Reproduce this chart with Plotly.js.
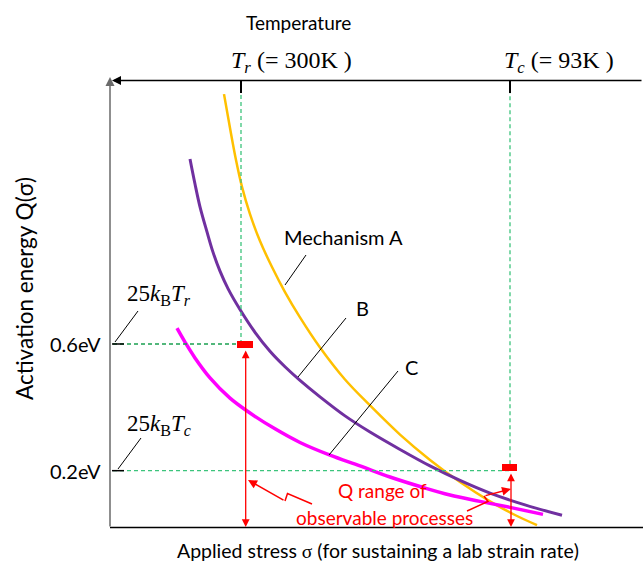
<!DOCTYPE html>
<html><head><meta charset="utf-8">
<script src="https://cdn.plot.ly/plotly-3.0.1.min.js"></script>
<style>html,body{margin:0;padding:0;background:#fff;}#chart{width:643px;height:573px;}</style>
</head><body><div id="chart"></div>
<script>
// ---- data (stress in arbitrary units, Q in eV) ----
const sigmaA = [1.13, 1.19, 1.25, 1.31, 1.39, 1.49, 1.61, 1.74, 1.89, 2.09, 2.34, 2.59, 2.89, 3.19, 3.49, 3.79, 4.04, 4.26];
const qA     = [1.389, 1.282, 1.181, 1.096, 1.010, 0.925, 0.843, 0.764, 0.684, 0.589, 0.488, 0.406, 0.314, 0.234, 0.164, 0.103, 0.060, 0.028];
const sigmaB = [0.79, 0.84, 0.89, 0.96, 1.02, 1.09, 1.17, 1.29, 1.44, 1.59, 1.74, 1.89, 2.09, 2.34, 2.59, 2.89, 3.19, 3.49, 3.79, 4.14, 4.51];
const qB     = [1.184, 1.105, 1.033, 0.954, 0.890, 0.830, 0.775, 0.709, 0.637, 0.577, 0.528, 0.485, 0.433, 0.373, 0.322, 0.267, 0.215, 0.169, 0.129, 0.092, 0.059];
const sigmaC = [0.66, 0.74, 0.84, 0.99, 1.19, 1.39, 1.64, 1.89, 2.19, 2.49, 2.79, 3.09, 3.39, 3.69, 3.99, 4.32];
const qC     = [0.650, 0.606, 0.556, 0.493, 0.429, 0.382, 0.332, 0.289, 0.249, 0.215, 0.180, 0.150, 0.123, 0.103, 0.084, 0.062];
const curveNames = ['Mechanism A', 'B', 'C'];
const sigmaTr = 1.30, sigmaTc = 3.99;     // stress levels marked by the temperature ticks
const qTicks = [0.6, 0.2];
const qTickLabels = ['0.6eV', '0.2eV'];
const tempLabels = ['<i>T</i><sub><i>r</i></sub> (= 300K )', '<i>T</i><sub><i>c</i></sub> (= 93K )'];
const thermalLabels = ['25<i>k</i><sub>B</sub><i>T</i><sub><i>r</i></sub>', '25<i>k</i><sub>B</sub><i>T</i><sub><i>c</i></sub>'];

// ---- layout helpers (pixel geometry of the page) ----
const W = 643, H = 573, ML = 100, MR = 0, MT = 50, MB = 30;
const XR = [-0.11, 5.32], YR = [-0.0284, 1.5283];
const pw = W - ML - MR, ph = H - MT - MB;
const px2x = px => XR[0] + (px - ML) / pw * (XR[1] - XR[0]);
const py2y = py => YR[1] - (py - MT) / ph * (YR[1] - YR[0]);
const pX = px => (px - ML) / pw;
const pY = py => (H - MB - py) / ph;

const green = '#3cc47c';
const serif = 'Liberation Serif, Times New Roman, serif';
const sans = 'Lato, Open Sans, sans-serif';

const traces = [
  {x: sigmaA, y: qA, name: curveNames[0], mode: 'lines', line: {color: '#FFC000', width: 2.5, shape: 'spline', smoothing: 1}},
  {x: sigmaB, y: qB, name: curveNames[1], mode: 'lines', line: {color: '#7030A0', width: 3, shape: 'spline', smoothing: 1}},
  {x: sigmaC, y: qC, name: curveNames[2], mode: 'lines', line: {color: '#FF00FF', width: 3.5, shape: 'spline', smoothing: 1}}
];

const topQ = py2y(80), tickEndQ = py2y(93), botQ = py2y(527.5);
function seg(x0, y0, x1, y1, color, width, dash) {
  return {type: 'line', xref: 'x', yref: 'y', x0, y0, x1, y1, line: {color, width, dash: dash || 'solid'}};
}
function pathPx(pts, color, width) {
  const d = pts.map((p, i) => (i ? 'L' : 'M') + px2x(p[0]) + ',' + py2y(p[1])).join(' ');
  return {type: 'path', xref: 'x', yref: 'y', path: d, line: {color, width}};
}
const dash = '4px,3px';
const shapes = [
  // guide lines
  seg(sigmaTr, qTicks[0], sigmaTr, tickEndQ, green, 1.3, dash),
  seg(px2x(113), qTicks[0], sigmaTr, qTicks[0], '#1aa050', 1.3, dash),
  seg(sigmaTc, qTicks[1] + 0.02, sigmaTc, tickEndQ, green, 1.3, dash),
  seg(px2x(113), qTicks[1], sigmaTc, qTicks[1], green, 1.3, dash),
  // bottom axis
  seg(px2x(110), botQ, XR[1], botQ, '#000', 1.5),
  // temperature ticks
  seg(sigmaTr, topQ, sigmaTr, tickEndQ, '#000', 2),
  seg(sigmaTc, topQ, sigmaTc, tickEndQ, '#000', 2),
  // Q ticks
  seg(px2x(112), qTicks[0], px2x(124), qTicks[0], '#000', 1.5),
  seg(px2x(112), qTicks[1], px2x(124), qTicks[1], '#000', 1.5),
  // leader lines
  pathPx([[115, 342], [138, 311]], '#000', 1),
  pathPx([[118, 469], [141, 438]], '#000', 1),
  pathPx([[285, 285], [306, 255]], '#000', 1),
  pathPx([[298, 377], [346, 318]], '#000', 1),
  pathPx([[329, 455], [398, 371]], '#000', 1),
  // red markers
  {type: 'rect', xref: 'x', yref: 'y', x0: px2x(237), x1: px2x(253), y0: py2y(348), y1: py2y(341), fillcolor: '#FF0000', line: {width: 0}},
  {type: 'rect', xref: 'x', yref: 'y', x0: px2x(502), x1: px2x(517), y0: py2y(471), y1: py2y(464), fillcolor: '#FF0000', line: {width: 0}},
  // lightning connectors
  pathPx([[312, 504], [287.5, 493.5], [285, 501]], '#FF0000', 1.5),
  pathPx([[467, 511], [488, 501.5], [484, 496]], '#FF0000', 1.5)
];

function arrow(tip, tail, color, width, opts) {
  return Object.assign({x: px2x(tip[0]), y: py2y(tip[1]), ax: px2x(tail[0]), ay: py2y(tail[1]),
    xref: 'x', yref: 'y', axref: 'x', ayref: 'y', text: '', showarrow: true,
    arrowhead: 2, arrowsize: 1.2, arrowwidth: width, arrowcolor: color, standoff: 0, startstandoff: 0}, opts || {});
}
function label(text, px, py, size, opts) {
  return Object.assign({x: pX(px), y: pY(py), xref: 'paper', yref: 'paper', text, showarrow: false,
    font: {family: sans, size, color: '#000'}, xanchor: 'center', yanchor: 'middle'}, opts || {});
}
const annotations = [
  arrow([112, 80.5], [643, 80.5], '#000', 1.5),
  arrow([110, 77], [110, 528], '#6b6b6b', 1.5),
  arrow([245.7, 527], [245.7, 349], '#FF0000', 1.3, {arrowside: 'end+start'}),
  arrow([511, 527], [511, 472], '#FF0000', 1.3, {arrowside: 'end+start'}),
  arrow([248, 480], [285, 501], '#FF0000', 1.5),
  arrow([511, 489], [484, 496], '#FF0000', 1.5),
  label('Temperature', 298, 22, 19),
  {x: sigmaTr, y: pY(62), xref: 'x', yref: 'paper', text: tempLabels[0], showarrow: false, xanchor: 'left', yanchor: 'middle', xshift: -12, font: {family: serif, size: 24, color: '#000'}},
  {x: sigmaTc, y: pY(62), xref: 'x', yref: 'paper', text: tempLabels[1], showarrow: false, xanchor: 'left', yanchor: 'middle', xshift: -8, font: {family: serif, size: 24, color: '#000'}},
  label(thermalLabels[0], 159, 295, 23, {font: {family: serif, size: 23, color: '#000'}}),
  label(thermalLabels[1], 159, 425, 23, {font: {family: serif, size: 23, color: '#000'}}),
  {x: pX(103), y: qTicks[0], xref: 'paper', yref: 'y', text: qTickLabels[0], showarrow: false, xanchor: 'right', yanchor: 'middle', font: {family: sans, size: 20, color: '#000'}},
  {x: pX(103), y: qTicks[1], xref: 'paper', yref: 'y', text: qTickLabels[1], showarrow: false, xanchor: 'right', yanchor: 'middle', font: {family: sans, size: 20, color: '#000'}},
  label('Activation energy Q(σ)', 24, 289, 22.5, {textangle: -90}),
  label('Applied stress <span style="font-family:Liberation Serif">σ</span> (for sustaining a lab strain rate)', 378, 550, 19.5),
  label(curveNames[0], 343, 237, 20),
  label(curveNames[1], 362, 308, 20),
  label(curveNames[2], 411, 367, 20),
  label('Q range of', 382, 490, 19, {font: {family: sans, size: 19, color: '#FF0000'}}),
  label('observable processes', 384, 517, 19, {font: {family: sans, size: 19, color: '#FF0000'}})
];

const layout = {
  width: W, height: H, margin: {l: ML, r: MR, t: MT, b: MB, pad: 0},
  paper_bgcolor: '#fff', plot_bgcolor: '#fff', showlegend: false,
  xaxis: {range: XR, showgrid: false, zeroline: false, showticklabels: false, ticks: '', showline: false, fixedrange: true},
  yaxis: {range: YR, showgrid: false, zeroline: false, showticklabels: false, ticks: '', showline: false, fixedrange: true},
  shapes, annotations
};
Plotly.newPlot('chart', traces, layout, {displayModeBar: false, staticPlot: true});
</script></body></html>
